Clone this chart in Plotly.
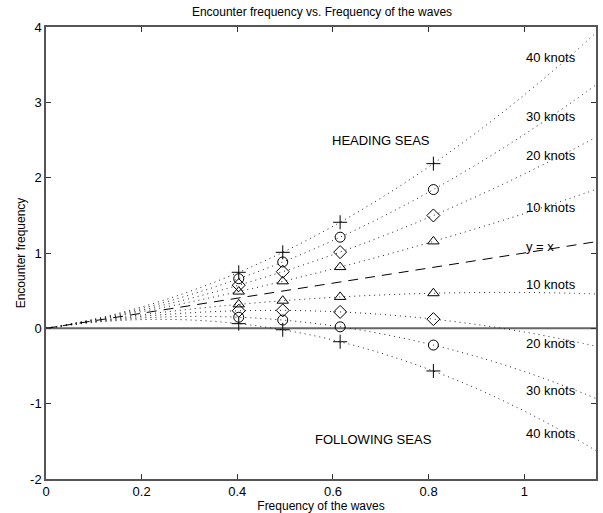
import plotly.graph_objects as go

# wave frequency grid (x) for the curves
omega = [0, 0.1, 0.2, 0.3, 0.4, 0.5, 0.6, 0.7, 0.8, 0.9, 1.0, 1.1, 1.15]

# heading seas curves (encounter frequency)
head_10 = [0, 0.105, 0.221, 0.347, 0.484, 0.631, 0.789, 0.957, 1.136, 1.325, 1.524, 1.735, 1.844]
head_20 = [0, 0.111, 0.242, 0.394, 0.568, 0.762, 0.978, 1.214, 1.471, 1.750, 2.049, 2.369, 2.537]
head_30 = [0, 0.116, 0.263, 0.442, 0.652, 0.893, 1.166, 1.471, 1.807, 2.174, 2.573, 3.004, 3.231]
head_40 = [0, 0.121, 0.284, 0.489, 0.736, 1.024, 1.355, 1.728, 2.143, 2.599, 3.098, 3.638, 3.924]

# following seas curves
foll_10 = [0, 0.095, 0.179, 0.253, 0.316, 0.369, 0.411, 0.443, 0.464, 0.475, 0.476, 0.466, 0.457]
foll_20 = [0, 0.090, 0.158, 0.206, 0.232, 0.238, 0.222, 0.186, 0.129, 0.051, -0.049, -0.169, -0.237]
foll_30 = [0, 0.084, 0.137, 0.158, 0.148, 0.107, 0.034, -0.071, -0.207, -0.374, -0.573, -0.804, -0.931]
foll_40 = [0, 0.079, 0.116, 0.111, 0.064, -0.024, -0.155, -0.328, -0.543, -0.799, -1.098, -1.438, -1.624]

# marker sample frequencies and values
omega_m = [0.403, 0.495, 0.615, 0.81]
mk_h40 = [0.744, 1.009, 1.408, 2.186]
mk_h30 = [0.659, 0.881, 1.210, 1.842]
mk_h20 = [0.573, 0.752, 1.012, 1.498]
mk_h10 = [0.488, 0.624, 0.813, 1.154]
mk_f10 = [0.318, 0.367, 0.417, 0.466]
mk_f20 = [0.233, 0.238, 0.218, 0.122]
mk_f30 = [0.147, 0.110, 0.020, -0.222]
mk_f40 = [0.062, -0.019, -0.178, -0.566]

# y = x reference
ref_x = [0, 1.15]
ref_y = [0, 1.15]

# labels
label_x = [1.0, 1.0, 1.0, 1.0, 1.0, 1.0, 1.0, 1.0, 1.0]
label_y = [3.60, 2.81, 2.30, 1.60, 1.09, 0.58, -0.20, -0.83, -1.40]
label_txt = ["40 knots", "30 knots", "20 knots", "10 knots", "y = x",
             "10 knots", "20 knots", "30 knots", "40 knots"]

FONT = "Liberation Sans, Arial, sans-serif"

fig = go.Figure()

for ys in [head_40, head_30, head_20, head_10, foll_10, foll_20, foll_30, foll_40]:
    fig.add_trace(go.Scatter(x=omega, y=ys, mode="lines", line_shape="spline",
                             line=dict(color="#222222", width=1, dash="1px,4px"),
                             showlegend=False, hoverinfo="skip"))

fig.add_trace(go.Scatter(x=ref_x, y=ref_y, mode="lines",
                         line=dict(color="black", width=1, dash="10px,7px"),
                         showlegend=False))

sym = {"+": "cross-thin-open", "o": "circle-open", "d": "diamond-open", "t": "triangle-up-open"}
for ys, s in [(mk_h40, "+"), (mk_h30, "o"), (mk_h20, "d"), (mk_h10, "t"),
              (mk_f10, "t"), (mk_f20, "d"), (mk_f30, "o"), (mk_f40, "+")]:
    fig.add_trace(go.Scatter(x=omega_m, y=ys, mode="markers",
                             marker=dict(symbol=sym[s], size=10,
                                         color="black", line=dict(color="black", width=1)),
                             showlegend=False))

for xx, yy, tt in zip(label_x, label_y, label_txt):
    fig.add_annotation(x=xx, y=yy, text=tt, showarrow=False, xanchor="left",
                       yanchor="middle", font=dict(family=FONT, size=13, color="black"))

fig.add_annotation(x=0.70, y=2.49, text="HEADING SEAS", showarrow=False,
                   font=dict(family=FONT, size=13, color="black"))
fig.add_annotation(x=0.685, y=-1.48, text="FOLLOWING SEAS", showarrow=False,
                   font=dict(family=FONT, size=13, color="black"))

axis_common = dict(showline=True, linecolor="#555555", linewidth=1.5, mirror="ticks",
                   ticks="inside", ticklen=5, tickcolor="#333333", showgrid=False,
                   zeroline=False, tickfont=dict(family=FONT, size=13, color="black"))

fig.update_xaxes(range=[0, 1.15], tickvals=[0, 0.2, 0.4, 0.6, 0.8, 1.0],
                 ticktext=["0", "0.2", "0.4", "0.6", "0.8", "1"],
                 title=dict(text="Frequency of the waves", standoff=0,
                            font=dict(family=FONT, size=12, color="black")),
                 **axis_common)
fig.update_yaxes(range=[-2, 4], tickvals=[-2, -1, 0, 1, 2, 3, 4],
                 ticktext=["-2", "-1", "0", "1", "2", "3", "4"],
                 title=dict(text="Encounter frequency", standoff=2,
                            font=dict(family=FONT, size=12, color="black")),
                 **axis_common)

fig.add_shape(type="line", x0=0, x1=1.15, y0=0, y1=0, xref="x", yref="y",
              line=dict(color="#666666", width=2), layer="below")

fig.update_layout(width=603, height=513, plot_bgcolor="white", paper_bgcolor="white",
                  margin=dict(l=46, r=5, t=27, b=33),
                  title=dict(text="Encounter frequency vs. Frequency of the waves",
                             x=0.534, xanchor="center", y=0.977, yanchor="middle",
                             font=dict(family=FONT, size=12, color="black")))

fig.write_html("out.html")
